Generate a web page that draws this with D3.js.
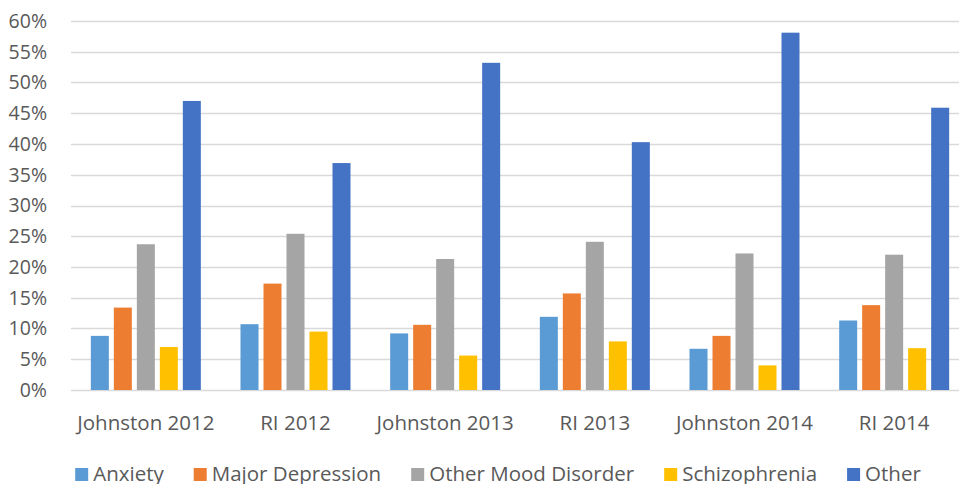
<!DOCTYPE html>
<html>
<head>
<meta charset="utf-8">
<script src="https://cdnjs.cloudflare.com/ajax/libs/d3/7.8.5/d3.min.js"></script>
<style>
  body { margin: 0; background: #fff; }
  svg { display: block; }
  text { font-family: "Open Sans", sans-serif; fill: #595959; }
</style>
</head>
<body>
<div id="chart"></div>
<script>
// chart data
var categories = ['Johnston 2012', 'RI 2012', 'Johnston 2013', 'RI 2013', 'Johnston 2014', 'RI 2014'];
var seriesNames = ['Anxiety', 'Major Depression', 'Other Mood Disorder', 'Schizophrenia', 'Other'];
var anxiety      = [0.088, 0.107, 0.092, 0.119, 0.067, 0.113];
var majorDep     = [0.134, 0.173, 0.106, 0.157, 0.088, 0.138];
var otherMood    = [0.237, 0.254, 0.213, 0.241, 0.222, 0.220];
var schizo       = [0.070, 0.095, 0.056, 0.079, 0.040, 0.068];
var other        = [0.470, 0.369, 0.532, 0.403, 0.581, 0.459];
var yTicks = [0, 0.05, 0.10, 0.15, 0.20, 0.25, 0.30, 0.35, 0.40, 0.45, 0.50, 0.55, 0.60];
var titleText = 'Mental Health Disorders';

var series = [anxiety, majorDep, otherMood, schizo, other];
var colors = ['#5B9BD5', '#ED7D31', '#A5A5A5', '#FFC000', '#4472C4'];

var w = 959, h = 484;
var fontSize = 19.5;

var svg = d3.select('#chart')
    .append('svg')
    .attr('width', w)
    .attr('height', h);

// scales
var y = d3.scaleLinear()
    .domain([0, 0.6])
    .range([390, 21]);

var x0 = d3.scaleBand()
    .domain(categories)
    .range([71, 969]);

var groupW = 110;
var x1 = d3.scaleBand()
    .domain(seriesNames)
    .range([(x0.bandwidth() - groupW) / 2, (x0.bandwidth() + groupW) / 2])
    .paddingInner(0.217);

// title (almost fully cropped off at the top)
svg.append('text')
    .attr('x', 495)
    .attr('y', -4.5)
    .attr('text-anchor', 'middle')
    .style('font-size', '20px')
    .text(titleText);

// gridlines
svg.append('g')
    .selectAll('line')
    .data(yTicks)
    .enter()
    .append('line')
    .attr('x1', 71)
    .attr('x2', 969)
    .attr('y1', function (d) { return Math.round(y(d)) + 0.5; })
    .attr('y2', function (d) { return Math.round(y(d)) + 0.5; })
    .attr('stroke', '#D9D9D9')
    .attr('stroke-width', 1.3);

// y axis labels
var yAxis = d3.axisLeft(y)
    .tickValues(yTicks)
    .tickFormat(d3.format('.0%'))
    .tickSize(0)
    .tickPadding(24);

var gy = svg.append('g')
    .attr('transform', 'translate(71,0)')
    .call(yAxis);
gy.select('.domain').remove();
gy.selectAll('text')
    .style('font-size', fontSize + 'px')
    .style('font-family', '"Open Sans", sans-serif')
    .attr('fill', '#595959');

// bars
var groups = svg.append('g')
    .selectAll('g')
    .data(categories)
    .enter()
    .append('g')
    .attr('transform', function (d) { return 'translate(' + x0(d) + ',0)'; });

groups.selectAll('rect')
    .data(function (d, i) {
        return seriesNames.map(function (s, j) {
            return { key: s, value: series[j][i], color: colors[j] };
        });
    })
    .enter()
    .append('rect')
    .attr('x', function (d) { return x1(d.key); })
    .attr('y', function (d) { return y(d.value); })
    .attr('width', x1.bandwidth())
    .attr('height', function (d) { return y(0) - y(d.value); })
    .attr('fill', function (d) { return d.color; });

// category labels
var xAxis = d3.axisBottom(x0)
    .tickSize(0)
    .tickPadding(25);
var gx = svg.append('g')
    .attr('transform', 'translate(0,390)')
    .call(xAxis);
gx.select('.domain').remove();
gx.selectAll('text')
    .style('font-size', '20.5px')
    .style('font-family', '"Open Sans", sans-serif')
    .attr('fill', '#595959');

// legend
var legend = svg.append('g');
var items = legend.selectAll('g')
    .data(seriesNames)
    .enter()
    .append('g');
items.append('rect')
    .attr('width', 13)
    .attr('height', 13)
    .attr('y', 468)
    .attr('fill', function (d, i) { return colors[i]; });
items.append('text')
    .attr('x', 18)
    .attr('y', 481)
    .style('font-size', '20.5px')
    .text(function (d) { return d; });

// lay out legend items centred, like Excel does
var gap = 30;
var widths = [];
items.each(function () {
    widths.push(18 + d3.select(this).select('text').node().getComputedTextLength());
});
var total = d3.sum(widths) + gap * (widths.length - 1);
var cx = 498;
var pos = cx - total / 2;
items.attr('transform', function (d, i) {
    var t = 'translate(' + pos + ',0)';
    pos += widths[i] + gap;
    return t;
});
</script>
</body>
</html>
